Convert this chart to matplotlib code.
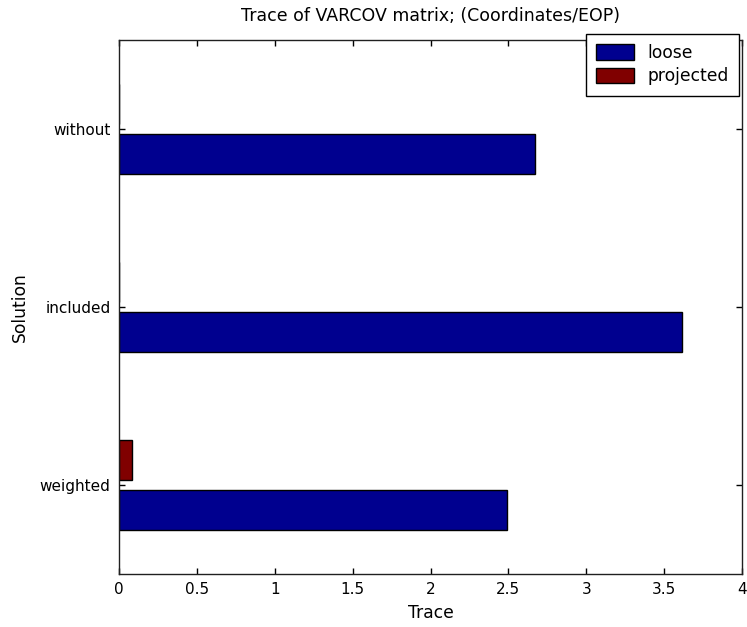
import matplotlib
matplotlib.use('Agg')
import matplotlib.pyplot as plt
import numpy as np

solutions = ['weighted', 'included', 'without']
loose = [2.49, 3.615, 2.67]
projected = [0.083, 0.0, 0.0]
series_names = ['loose', 'projected']

plt.rcParams['font.family'] = 'DejaVu Sans'

fig = plt.figure(figsize=(7.47, 6.27), dpi=100)
ax = fig.add_axes([119 / 747, 1 - 574 / 627, 623 / 747, 534 / 627])

y = np.arange(1, len(solutions) + 1)
h = 0.225
off = 0.14
ax.barh(y - off, loose, height=h, color='#00008f', edgecolor='black', linewidth=1.0, label=series_names[0])
ax.barh(y + off, projected, height=h, color='#800000', edgecolor='black', linewidth=1.0, label=series_names[1])

ax.set_xlim(0, 4)
ax.set_ylim(0.5, 3.5)
ax.set_xticks(np.arange(0, 4.01, 0.5))
ax.set_xticklabels(['0', '0.5', '1', '1.5', '2', '2.5', '3', '3.5', '4'])
ax.set_yticks(y)
ax.set_yticklabels(solutions)
ax.tick_params(direction='in', top=True, right=True, length=4, width=1.0, labelsize=11, pad=6)
for s in ax.spines.values():
    s.set_linewidth(1.0)
    s.set_color('#202020')

ax.set_title('Trace of VARCOV matrix; (Coordinates/EOP)', fontsize=12.5, pad=14)
ax.set_xlabel('Trace', fontsize=12.3, labelpad=5)
ax.set_ylabel('Solution', fontsize=12.3, labelpad=8)

leg = ax.legend(loc='upper right', bbox_to_anchor=(739 / 747, 1 - 34 / 627),
                bbox_transform=fig.transFigure, borderaxespad=0, fancybox=False,
                framealpha=1, edgecolor='black', fontsize=12.3,
                handlelength=2.2, handleheight=1.05, handletextpad=0.8,
                borderpad=0.6, labelspacing=0.3)
leg.get_frame().set_linewidth(1.0)
leg.set_zorder(5)

fig.savefig('out.png', dpi=100)
